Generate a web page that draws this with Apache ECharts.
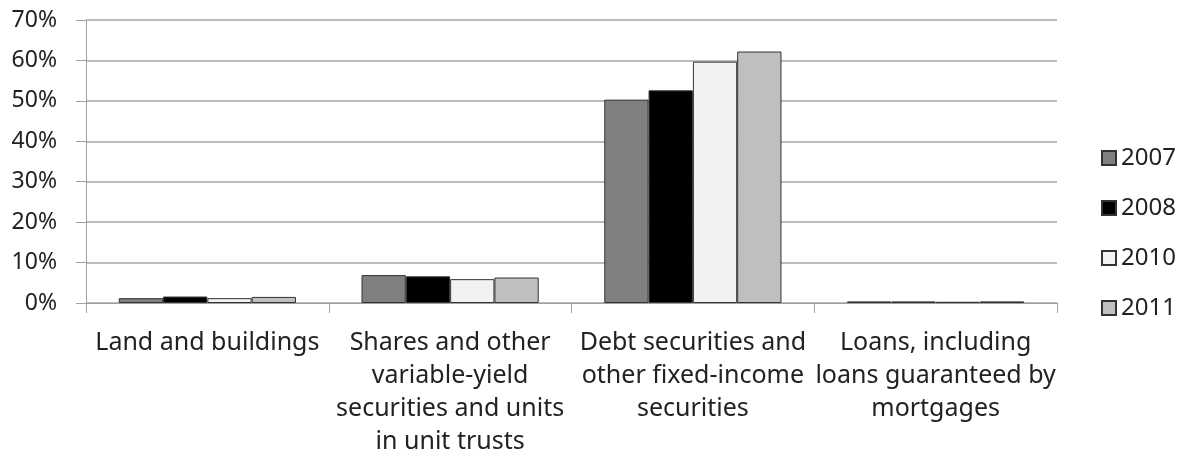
<!DOCTYPE html>
<html>
<head>
<meta charset="utf-8">
<script src="https://cdn.jsdelivr.net/npm/echarts@6/dist/echarts.min.js"></script>
<style>
  html, body { margin: 0; padding: 0; background: #fff; }
  #chart { width: 1189px; height: 459px; }
</style>
</head>
<body>
<div id="chart"></div>
<script>
// Asset categories (line breaks follow the wrapped axis labels)
const categories = [
  'Land and buildings',
  'Shares and other\nvariable-yield\nsecurities and units\nin unit trusts',
  'Debt securities and\nother fixed-income\nsecurities',
  'Loans, including\nloans guaranteed by\nmortgages'
];

// Share of total investments, in percent
const years = ['2007', '2008', '2010', '2011'];
const values2007 = [1.2, 6.9, 50.3, 0.4];
const values2008 = [1.6, 6.6, 52.6, 0.4];
const values2010 = [1.2, 5.9, 59.7, 0.3];
const values2011 = [1.5, 6.3, 62.2, 0.4];

const yTickStep = 10;
const yMax = 70;

const seriesData = [values2007, values2008, values2010, values2011];
const fills = ['#808080', '#000000', '#f2f2f2', '#bfbfbf'];

const FONT = '"Noto Sans", Roboto, sans-serif';
const chart = echarts.init(document.getElementById('chart'));

chart.setOption({
  animation: false,
  backgroundColor: '#ffffff',
  textStyle: { fontFamily: FONT },
  grid: { left: 86, right: 132, top: 20, bottom: 156 },
  legend: {
    orient: 'vertical',
    left: 1101,
    top: 146,
    padding: 0,
    itemWidth: 14,
    itemHeight: 14,
    itemGap: 26,
    icon: 'rect',
    data: years,
    textStyle: { fontSize: 24, color: '#222', fontFamily: FONT }
  },
  xAxis: {
    type: 'category',
    data: categories,
    axisLine: { lineStyle: { color: '#a0a0a0', width: 1 } },
    axisTick: { show: true, length: 10, lineStyle: { color: '#a0a0a0' } },
    axisLabel: {
      interval: 0,
      margin: 23,
      fontSize: 25,
      lineHeight: 33,
      color: '#222',
      fontFamily: FONT,
      align: 'center'
    }
  },
  yAxis: {
    type: 'value',
    min: 0,
    max: yMax,
    interval: yTickStep,
    axisLine: { show: true, lineStyle: { color: '#a0a0a0', width: 1 } },
    axisTick: { show: true, length: 10, lineStyle: { color: '#a0a0a0' } },
    splitLine: { lineStyle: { color: '#a6a6a6', width: 1.5 } },
    axisLabel: {
      formatter: '{value}%',
      margin: 29,
      fontSize: 23,
      color: '#222',
      fontFamily: FONT
    }
  },
  series: years.map((y, i) => ({
    name: y,
    type: 'bar',
    data: seriesData[i],
    barGap: '0%',
    barCategoryGap: '27%',
    itemStyle: { color: fills[i], borderColor: '#333', borderWidth: 1 }
  }))
});
</script>
</body>
</html>
